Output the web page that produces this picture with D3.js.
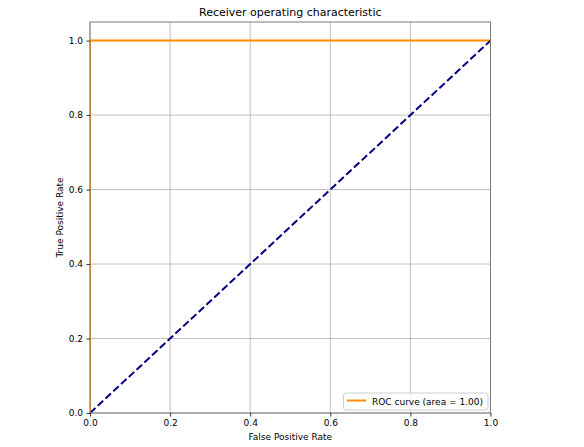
<!DOCTYPE html>
<html><head><meta charset="utf-8">
<script src="https://cdn.jsdelivr.net/npm/d3@7"></script>
<style>body{margin:0;background:#fff;} text{font-family:"DejaVu Sans",sans-serif;}</style>
</head><body>
<svg id="c" width="584" height="447"></svg>
<script>
const fpr = [0, 0, 1];
const tpr = [0, 1, 1];
const diagX = [0, 1];
const diagY = [0, 1];
const ticks = [0.0, 0.2, 0.4, 0.6, 0.8, 1.0];
const title = "Receiver operating characteristic";
const legendLabel = "ROC curve (area = 1.00)";

const svg = d3.select("#c");
const L = 90, R = 490.5, T = 22, B = 413;
const x = d3.scaleLinear().domain([0, 1]).range([L, R]);
const y = d3.scaleLinear().domain([0, 1.05]).range([B, T]);

svg.append("defs").append("clipPath").attr("id", "clip")
  .append("rect").attr("x", L).attr("y", T).attr("width", R - L).attr("height", B - T);

// grid
const g = svg.append("g");
ticks.forEach(t => {
  g.append("line").attr("x1", x(t)).attr("x2", x(t)).attr("y1", T).attr("y2", B)
    .attr("stroke", "#b0b0b0").attr("stroke-width", 0.8);
  g.append("line").attr("y1", y(t)).attr("y2", y(t)).attr("x1", L).attr("x2", R)
    .attr("stroke", "#b0b0b0").attr("stroke-width", 0.8);
});

const line = d3.line().x(d => x(d[0])).y(d => y(d[1]));
const pg = svg.append("g").attr("clip-path", "url(#clip)");
pg.append("path").datum(fpr.map((v, i) => [v, tpr[i]])).attr("d", line)
  .attr("fill", "none").attr("stroke", "darkorange").attr("stroke-width", 2);
pg.append("path").datum(diagX.map((v, i) => [v, diagY[i]])).attr("d", line)
  .attr("fill", "none").attr("stroke", "navy").attr("stroke-width", 2).attr("stroke-dasharray", "7.4,3.2");

// frame
svg.append("rect").attr("x", L).attr("y", T).attr("width", R - L).attr("height", B - T)
  .attr("fill", "none").attr("stroke", "#7a7a7a").attr("stroke-width", 1);

// axes
const xa = svg.append("g").attr("transform", `translate(0,${B})`)
  .call(d3.axisBottom(x).tickValues(ticks).tickFormat(d3.format(".1f")).tickSize(3.5).tickPadding(3.5));
const ya = svg.append("g").attr("transform", `translate(${L},0)`)
  .call(d3.axisLeft(y).tickValues(ticks).tickFormat(d3.format(".1f")).tickSize(3.5).tickPadding(3.5));
[xa, ya].forEach(a => {
  a.select(".domain").remove();
  a.selectAll("text").attr("font-size", 9).attr("fill", "#000").attr("font-family", "DejaVu Sans");
  a.selectAll("line").attr("stroke", "#000").attr("stroke-width", 0.8);
});

svg.append("text").attr("x", (L + R) / 2).attr("y", T - 6).attr("text-anchor", "middle")
  .attr("font-size", 11).text(title);
svg.append("text").attr("x", (L + R) / 2).attr("y", 440).attr("text-anchor", "middle")
  .attr("font-size", 9).text("False Positive Rate");
svg.append("text").attr("transform", `translate(63,${(T + B) / 2}) rotate(-90)`).attr("text-anchor", "middle")
  .attr("font-size", 9).text("True Positive Rate");

// legend
const lg = svg.append("g");
const lw = 144.5, lh = 17;
const lx = 343.5, ly = 393;
lg.append("rect").attr("x", lx).attr("y", ly).attr("width", lw).attr("height", lh).attr("rx", 2.5)
  .attr("fill", "#fff").attr("fill-opacity", 0.8).attr("stroke", "#ccc").attr("stroke-width", 1);
lg.append("line").attr("x1", lx + 3.5).attr("x2", lx + 22.5).attr("y1", ly + 7.5).attr("y2", ly + 7.5)
  .attr("stroke", "darkorange").attr("stroke-width", 2);
lg.append("text").attr("x", lx + 28.5).attr("y", ly + 11.5).attr("font-size", 9).text(legendLabel);
</script>
</body></html>
